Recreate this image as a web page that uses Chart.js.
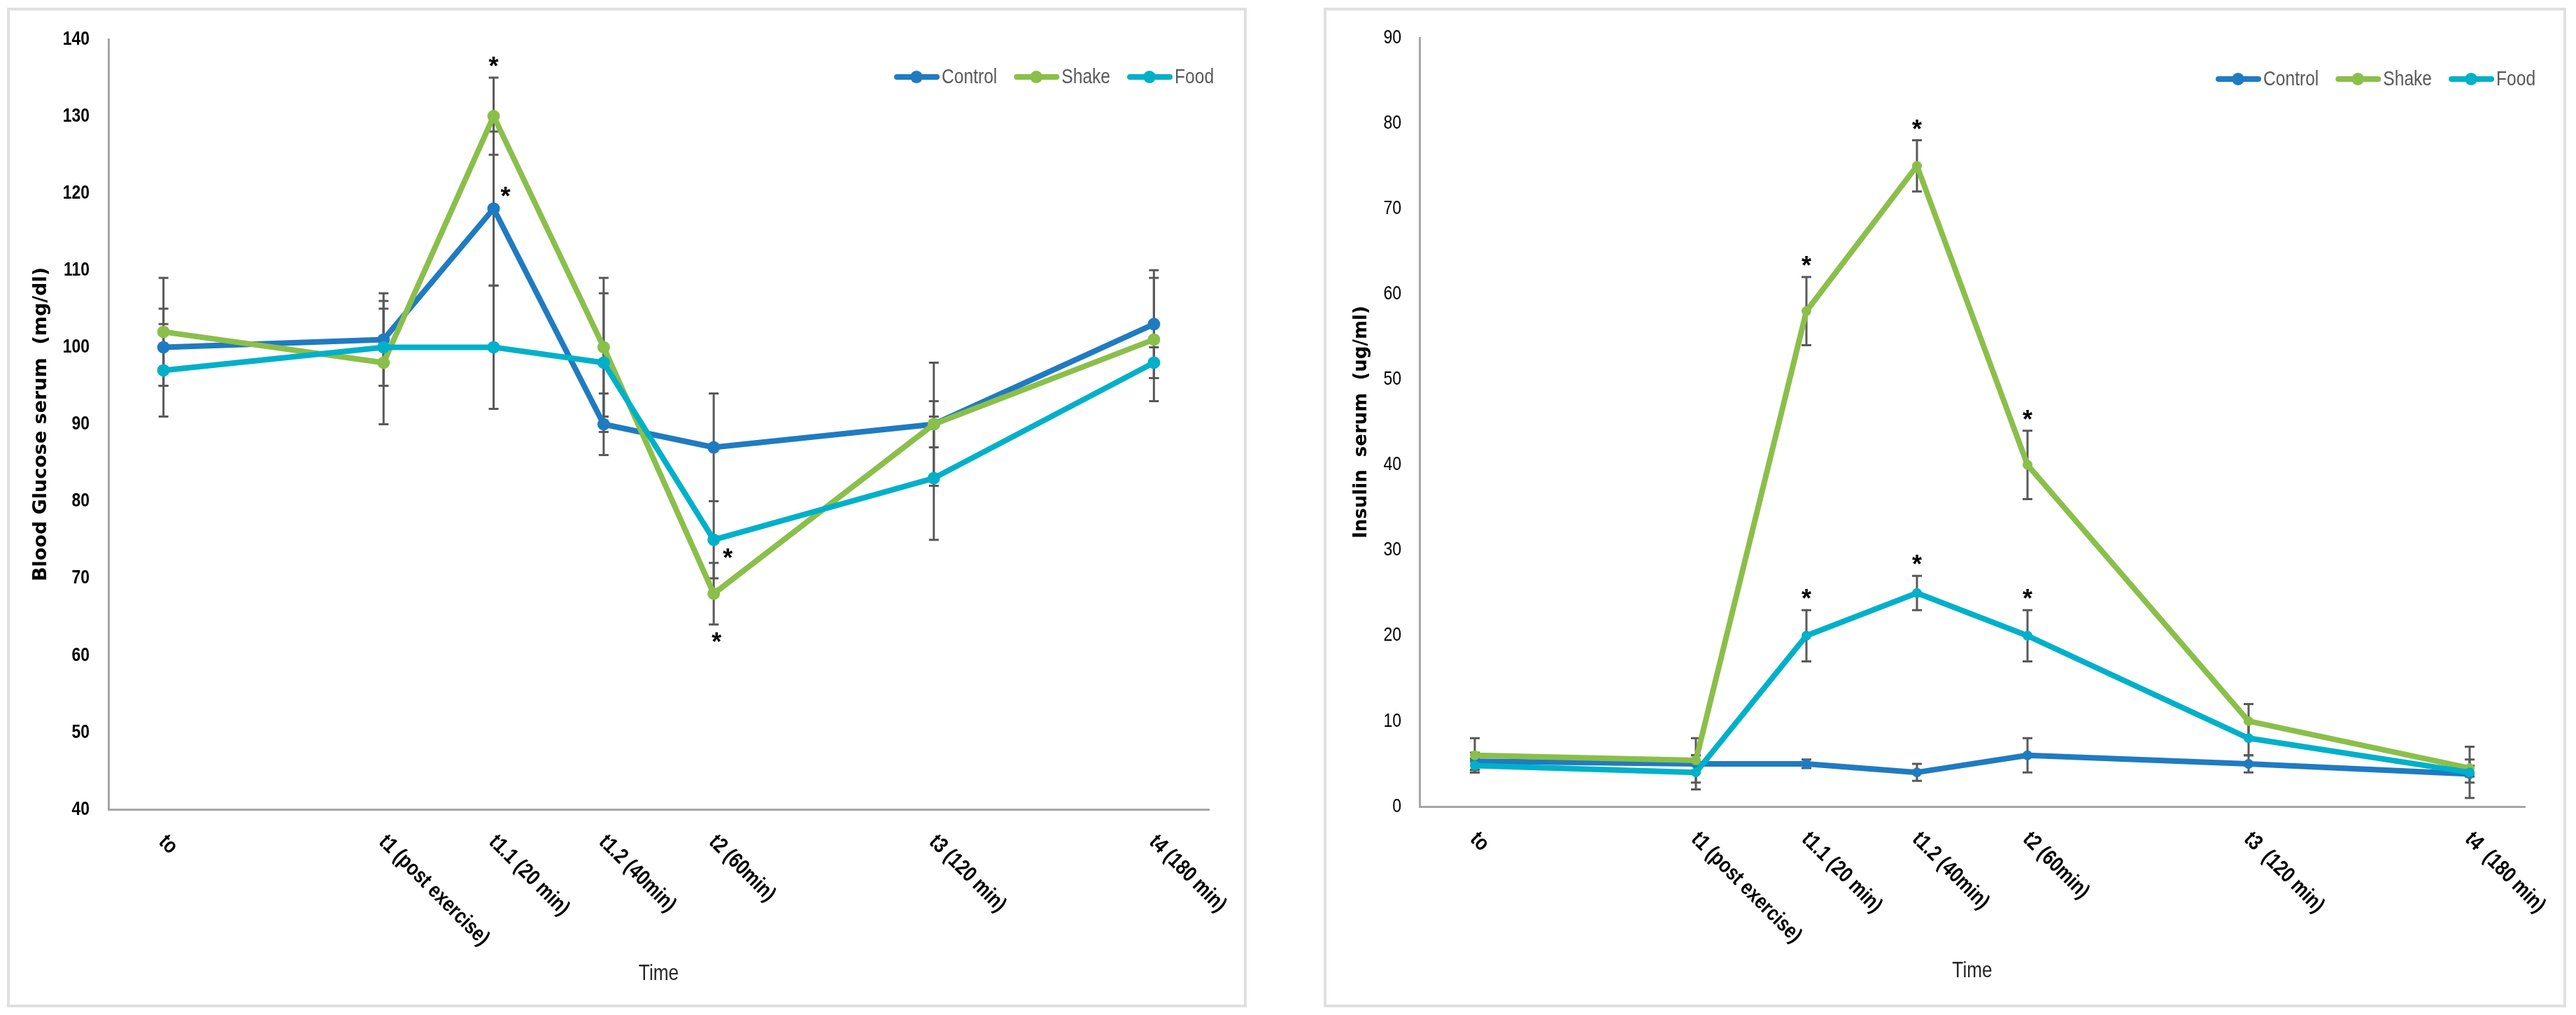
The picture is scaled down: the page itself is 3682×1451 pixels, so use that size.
<!DOCTYPE html>
<html><head><meta charset="utf-8">
<script src="https://cdn.jsdelivr.net/npm/chart.js@4.4.1/dist/chart.umd.min.js"></script>
<style>
html,body{margin:0;padding:0;background:#fff;width:3682px;height:1451px;overflow:hidden;}
.panel{position:absolute;box-sizing:border-box;border:4px solid #e0e0e0;}
canvas{position:absolute;top:0;}
</style></head><body>
<div class="panel" style="left:10px;top:11px;width:1772px;height:1429px"></div>
<div class="panel" style="left:1892px;top:11px;width:1776px;height:1429px"></div>
<canvas id="c1" width="1841" height="1451" style="left:0"></canvas>
<canvas id="c2" width="1841" height="1451" style="left:1841px"></canvas>
<script>
// ---------- data ----------
const glucoseCategories = ['to','t1 (post exercise)','t1.1 (20 min)','t1.2 (40min)','t2 (60min)','t3 (120 min)','t4 (180 min)'];
const insulinCategories = ['to','t1 (post exercise)','t1.1 (20 min)','t1.2 (40min)','t2 (60min)','t3  (120 min)','t4  (180 min)'];
// category slot on the time axis (the original axis leaves empty slots between some points)
const categorySlots = [0, 2, 3, 4, 5, 7, 9];
const seriesNames = ['Control', 'Shake', 'Food'];

const glucoseControl = [100, 101, 118, 90, 87, 90, 103];
const glucoseShake   = [102, 98, 130, 100, 68, 90, 101];
const glucoseFood    = [97, 100, 100, 98, 75, 83, 98];
const glucoseControlErr = [5, 6, 10, 4, 7, 8, 7];
const glucoseShakeErr   = [7, 8, 5, 9, 4, 3, 8];
const glucoseFoodErr    = [6, 5, 8, 9, 5, 8, 2];
const glucoseYTicks = [40, 50, 60, 70, 80, 90, 100, 110, 120, 130, 140];

const insulinControl = [5.3, 5, 5, 4, 6, 5, 3.8];
const insulinShake   = [6, 5.4, 58, 75, 40, 10, 4.5];
const insulinFood    = [4.8, 4, 20, 25, 20, 8, 4];
const insulinControlErr = [1, 1, 0.5, 1, 2, 1, 1];
const insulinShakeErr   = [2, 2.6, 4, 3, 4, 2, 1];
const insulinFoodErr    = [0.8, 2, 3, 2, 3, 2, 3];
const insulinYTicks = [0, 10, 20, 30, 40, 50, 60, 70, 80, 90];

// significance marks: [series, category index, placement]
const glucoseStars = [['Shake', 2, 'aboveErr'], ['Control', 2, 'upperRight'], ['Food', 4, 'lowerRight'], ['Shake', 4, 'belowErr']];
const insulinStars = [['Shake', 2, 'aboveErr'], ['Shake', 3, 'aboveErr'], ['Shake', 4, 'aboveErr'],
                      ['Food', 2, 'aboveErr'], ['Food', 3, 'aboveErr'], ['Food', 4, 'aboveErr']];

// ---------- styles ----------
const COLORS = {Control: '#1f7bc1', Shake: '#8abf4a', Food: '#00b0c9'};
const SANS = '"Liberation Sans", Arial, sans-serif';
const WIDE = '"DejaVu Sans", sans-serif';
const NARROW_SCALE = 0.82;

function narrowText(ctx, text, x, y, rot) {
  ctx.save();
  ctx.translate(x, y);
  if (rot) ctx.rotate(rot);
  ctx.scale(NARROW_SCALE, 1);
  ctx.fillText(text, 0, 0);
  ctx.restore();
}

function starOffset(kind) {
  switch (kind) {
    case 'aboveErr': return {dx: 0, dy: -23, ref: 'top'};
    case 'belowErr': return {dx: 4, dy: 18, ref: 'bottom'};
    case 'upperRight': return {dx: 17, dy: -24, ref: 'value'};
    case 'lowerRight': return {dx: 20, dy: 19, ref: 'value'};
  }
}

function makeChart(id, cfg) {
  const ctxEl = document.getElementById(id);
  const datasets = seriesNames.map((name, si) => ({
    label: name,
    data: categorySlots.map((s, i) => ({x: s, y: cfg.values[si][i]})),
    borderColor: COLORS[name],
    backgroundColor: COLORS[name],
    pointBackgroundColor: COLORS[name],
    pointBorderColor: COLORS[name],
    pointBorderWidth: 0,
    pointRadius: cfg.pointRadius,
    borderWidth: cfg.lineWidth,
    borderJoinStyle: 'round',
    tension: 0,
    fill: false,
    clip: false,
    order: 2 - si
  }));

  const errPlugin = {
    id: 'errBars' + id,
    beforeDatasetsDraw(chart) {
      const {ctx, scales: {x, y}} = chart;
      ctx.save();
      ctx.strokeStyle = '#595959';
      ctx.lineWidth = 3;
      const cap = 7;
      seriesNames.forEach((name, si) => {
        categorySlots.forEach((s, i) => {
          const v = cfg.values[si][i], e = cfg.errs[si][i];
          const px = x.getPixelForValue(s);
          const yt = y.getPixelForValue(v + e), yb = y.getPixelForValue(v - e);
          ctx.beginPath();
          ctx.moveTo(px, yt); ctx.lineTo(px, yb);
          ctx.moveTo(px - cap, yt); ctx.lineTo(px + cap, yt);
          ctx.moveTo(px - cap, yb); ctx.lineTo(px + cap, yb);
          ctx.stroke();
        });
      });
      ctx.restore();
    }
  };

  const starPlugin = {
    id: 'stars' + id,
    afterDatasetsDraw(chart) {
      const {ctx, scales: {x, y}} = chart;
      ctx.save();
      ctx.fillStyle = '#000';
      ctx.font = 'bold 36px ' + SANS;
      ctx.textAlign = 'center';
      ctx.textBaseline = 'alphabetic';
      const m = ctx.measureText('*');
      const shift = (m.actualBoundingBoxAscent - m.actualBoundingBoxDescent) / 2;
      cfg.stars.forEach(([name, i, kind]) => {
        const si = seriesNames.indexOf(name);
        const v = cfg.values[si][i], e = cfg.errs[si][i];
        const o = starOffset(kind);
        const val = o.ref === 'top' ? v + e : o.ref === 'bottom' ? v - e : v;
        const px = x.getPixelForValue(categorySlots[i]) + o.dx;
        const py = y.getPixelForValue(val) + o.dy;
        ctx.fillText('*', px, py + shift);
      });
      ctx.restore();
    }
  };

  const textPlugin = {
    id: 'texts' + id,
    afterDraw(chart) {
      const {ctx, scales: {x, y}, chartArea} = chart;
      ctx.save();
      // y tick labels
      ctx.fillStyle = '#000';
      ctx.font = cfg.yTickWeight + ' 28px ' + SANS;
      ctx.textAlign = 'right';
      ctx.textBaseline = 'middle';
      cfg.yTicks.forEach(t => narrowText(ctx, String(t), chartArea.left - cfg.yTickPad, y.getPixelForValue(t)));
      // x category labels (rotated)
      ctx.font = 'bold 31px ' + SANS;
      ctx.textAlign = 'left';
      ctx.textBaseline = 'middle';
      cfg.labels.forEach((l, i) => {
        const px = x.getPixelForValue(categorySlots[i]);
        narrowText(ctx, l, px - 2, chartArea.bottom + 42, Math.PI / 4);
      });
      // x title
      ctx.fillStyle = '#262626';
      ctx.font = '32px ' + SANS;
      ctx.textAlign = 'center';
      narrowText(ctx, 'Time', (chartArea.left + chartArea.right) / 2, cfg.xTitleY);
      // legend
      ctx.font = '30px ' + SANS;
      ctx.textAlign = 'left';
      let lx = cfg.legend.x;
      const cy = cfg.legend.y;
      seriesNames.forEach((name) => {
        ctx.strokeStyle = COLORS[name];
        ctx.fillStyle = COLORS[name];
        ctx.lineWidth = 8;
        ctx.lineCap = 'round';
        ctx.beginPath();
        ctx.moveTo(lx + 4, cy); ctx.lineTo(lx + 61, cy);
        ctx.stroke();
        ctx.beginPath();
        ctx.arc(lx + 32, cy, 9, 0, Math.PI * 2);
        ctx.fill();
        ctx.fillStyle = '#595959';
        narrowText(ctx, name, lx + 68, cy + 1);
        lx += 68 + ctx.measureText(name).width * NARROW_SCALE + 24;
      });
      ctx.restore();
    }
  };

  return new Chart(ctxEl, {
    type: 'line',
    data: {datasets},
    options: {
      responsive: false,
      animation: false,
      devicePixelRatio: 1,
      events: [],
      layout: {padding: {left: 0, top: cfg.area.top, right: cfg.area.right, bottom: 0}},
      plugins: {legend: {display: false}, tooltip: {enabled: false}},
      scales: {
        x: {
          type: 'linear', min: -0.5, max: 9.5,
          ticks: {display: false},
          grid: {display: true, drawOnChartArea: false, drawTicks: false, color: 'rgba(0,0,0,0)'},
          border: {display: true, color: '#a6a6a6', width: 3},
          afterFit(s) { s.height = cfg.area.xHeight; }
        },
        y: {
          type: 'linear',
          min: cfg.yTicks[0], max: cfg.yTicks[cfg.yTicks.length - 1],
          ticks: {display: false, stepSize: cfg.yTicks[1] - cfg.yTicks[0]},
          grid: {display: true, drawOnChartArea: false, drawTicks: false, color: 'rgba(0,0,0,0)'},
          border: {display: true, color: '#a6a6a6', width: 3},
          title: {display: true, text: cfg.yTitle, color: '#000',
                  font: {family: WIDE, size: cfg.yTitleSize, weight: 'bold'}, padding: {top: cfg.yTitlePad, bottom: 0}},
          afterFit(s) { s.width = cfg.area.yWidth; }
        }
      }
    },
    plugins: [errPlugin, starPlugin, textPlugin]
  });
}

makeChart('c1', {
  labels: glucoseCategories,
  values: [glucoseControl, glucoseShake, glucoseFood],
  errs: [glucoseControlErr, glucoseShakeErr, glucoseFoodErr],
  yTicks: glucoseYTicks,
  yTitle: 'Blood Glucose serum  (mg/dl)',
  yTitleSize: 27, yTitlePad: 43, yTickPad: 27, yTickWeight: 'bold',
  pointRadius: 9, lineWidth: 8,
  area: {top: 56, right: 113, yWidth: 155, xHeight: 294},
  xTitleY: 1392,
  legend: {x: 1278, y: 110},
  stars: glucoseStars
});

makeChart('c2', {
  labels: insulinCategories,
  values: [insulinControl, insulinShake, insulinFood],
  errs: [insulinControlErr, insulinShakeErr, insulinFoodErr],
  yTicks: insulinYTicks,
  yTitle: 'Insulin  serum  (ug/ml)',
  yTitleSize: 26, yTitlePad: 90, yTickPad: 26, yTickWeight: 'normal',
  pointRadius: 7, lineWidth: 8,
  area: {top: 54, right: 73, yWidth: 188, xHeight: 298},
  xTitleY: 1388,
  legend: {x: 1326, y: 113},
  stars: insulinStars
});
</script>
</body></html>
